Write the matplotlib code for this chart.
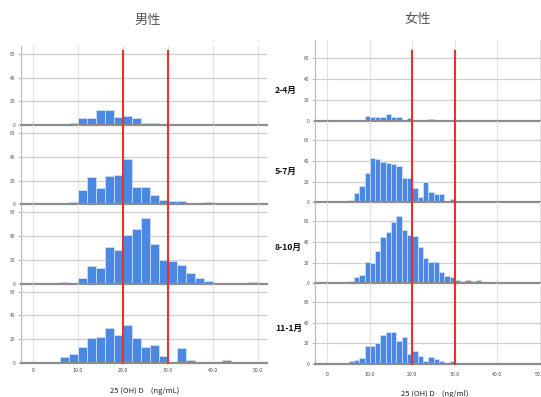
import numpy as np
import matplotlib
matplotlib.use('Agg')
import matplotlib.pyplot as plt

plt.rcParams['font.family'] = ['Noto Sans CJK SC', 'DejaVu Sans']

# ---------------- data ----------------
periods = ['2-4月', '5-7月', '8-10月', '11-1月']
group_titles = ['男性', '女性']
thresholds = [20, 30]
xtick_values = [0, 10, 20, 30, 40, 50]
xtick_labels = ['0', '10.0', '20.0', '30.0', '40.0', '50.0']
ytick_values = [0, 20, 40, 60]
xlabel_male = '25 (OH) D    (ng/mL)'
xlabel_female = '25 (OH) D    (ng/ml)'

# male histograms: bins of width 2 starting at 6
male_bin_start = 6.0
male_bin_width = 2.0
male_2_4 = [1, 2, 6, 6, 13, 13, 7, 8, 6, 2, 2, 0, 1, 0, 0, 0, 0, 0, 0, 0, 0, 0]
male_5_7 = [1, 2, 12, 23, 14, 24, 25, 38, 15, 15, 8, 4, 3, 3, 1, 1, 2, 1, 1, 0, 0, 0]
male_8_10 = [1, 0, 5, 15, 13, 31, 28, 41, 46, 55, 33, 20, 19, 16, 9, 5, 2, 0, 0, 0, 0, 1]
male_11_1 = [5, 7, 13, 21, 22, 29, 23, 32, 21, 13, 15, 6, 1, 12, 2, 1, 1, 1, 2, 0, 0, 0]

# female histograms: bins of width 1.25 starting at 5
female_bin_start = 5.0
female_bin_width = 1.25
female_2_4 = [0, 1, 1, 5, 4, 4, 4, 6, 4, 4, 0, 3, 0, 1, 1, 2, 0, 0, 0, 0, 1, 0, 0, 0, 0, 0, 0, 0, 0, 0]
female_5_7 = [2, 9, 16, 28, 43, 42, 39, 38, 37, 35, 23, 23, 14, 5, 20, 10, 8, 8, 0, 3, 1, 1, 0, 0, 1, 0, 0, 0, 0, 0]
female_8_10 = [2, 6, 8, 21, 20, 31, 45, 49, 59, 65, 51, 47, 46, 35, 24, 21, 21, 11, 7, 6, 3, 2, 3, 2, 3, 0, 1, 0, 0, 0]
female_11_1 = [3, 4, 6, 17, 17, 20, 28, 31, 31, 22, 26, 10, 13, 8, 3, 7, 5, 3, 1, 3, 0, 0, 0, 1, 0, 0, 1, 0, 0, 1]

male_series = [male_2_4, male_5_7, male_8_10, male_11_1]
female_series = [female_2_4, female_5_7, female_8_10, female_11_1]

# ---------------- style ----------------
W, H = 541, 397
BAR = '#4a88e4'
BAR_EDGE = '#d6e4f8'
RED = '#e8302c'
GRID_H = '#cfcfcf'
GRID_V = '#e2e2e2'
BASE = '#8c8c8c'

fig = plt.figure(figsize=(W / 100, H / 100), dpi=100)


def px_box(left, right, top, bottom):
    return [left / W, 1 - bottom / H, (right - left) / W, (bottom - top) / H]


def draw_group(series, bin_start, bin_width, left_px, right_px, xlim, base_px,
               panel_h, ylim_top, red_top_px, xt_pad, xlabel, xlabel_y):
    axes = []
    for i, counts in enumerate(series):
        bottom = base_px[i]
        ax = fig.add_axes(px_box(left_px, right_px, bottom - panel_h, bottom))
        counts = np.asarray(counts, dtype=float)
        lefts = bin_start + bin_width * np.arange(len(counts))
        ax.bar(lefts, counts, width=bin_width, align='edge', color=BAR,
               edgecolor=BAR_EDGE, linewidth=0.5, zorder=3)
        ax.set_xlim(*xlim)
        ax.set_ylim(0, ylim_top)
        ax.set_xticks(xtick_values)
        ax.set_yticks(ytick_values)
        ax.set_yticklabels([str(v) for v in ytick_values], fontsize=3.5, color='#555555')
        ax.tick_params(axis='y', length=2, width=0.5, color='#999999', pad=2)
        if i == len(series) - 1:
            ax.set_xticklabels(xtick_labels, fontsize=3.8, color='#444444')
            ax.tick_params(axis='x', length=0, pad=xt_pad)
        else:
            ax.tick_params(axis='x', length=0, labelbottom=False)
        for v in xtick_values:
            ax.axvline(v, color=GRID_V, lw=0.8, zorder=1)
        for v in ytick_values[1:]:
            ax.axhline(v, color=GRID_H, lw=0.9, zorder=1)
        for s in ['top', 'right']:
            ax.spines[s].set_visible(False)
        ax.spines['left'].set_color('#bbbbbb')
        ax.spines['left'].set_linewidth(0.8)
        ax.spines['bottom'].set_color(BASE)
        ax.spines['bottom'].set_linewidth(1.6)
        ax.spines['bottom'].set_zorder(5)
        ax.patch.set_alpha(0)
        ymax = 1.0
        if i == 0:
            ymax = (bottom - red_top_px) / panel_h
        for t in thresholds:
            ax.axvline(t, ymin=0, ymax=ymax, color=RED, lw=1.5, zorder=6,
                       clip_on=False)
        axes.append(ax)
    cx = (left_px + right_px) / 2
    return axes


male_axes = draw_group(male_series, male_bin_start, male_bin_width,
                       21, 267, (-2.6, 52.1), [125, 204.3, 283.5, 362.7],
                       79.2, 66.8, 51, 4, xlabel_male, 391)
female_axes = draw_group(female_series, female_bin_start, female_bin_width,
                         315, 552.6, (-2.9, 53.0), [120.7, 202.3, 283.3, 364],
                         81.1, 78.2, 51, 6, xlabel_female, 394)

# titles
fig.text(148 / W, 1 - 20 / H, group_titles[0], fontsize=9.5, color='#555555',
         ha='center', va='center')
fig.text(418 / W, 1 - 20 / H, group_titles[1], fontsize=9.5, color='#555555',
         ha='center', va='center')

# period labels between panels
label_y = [90, 171, 247, 328]
for lab, y in zip(periods, label_y):
    fig.text(275 / W, 1 - y / H, lab, fontsize=6.2, fontweight='bold',
             color='#111111', ha='left', va='center')

# x axis labels
fig.text(145 / W, 1 - 391 / H, xlabel_male, fontsize=5.5, color='#222222',
         ha='center', va='center')
fig.text(435 / W, 1 - 394 / H, xlabel_female, fontsize=5.5, color='#222222',
         ha='center', va='center')

fig.savefig('out.png', dpi=100)
